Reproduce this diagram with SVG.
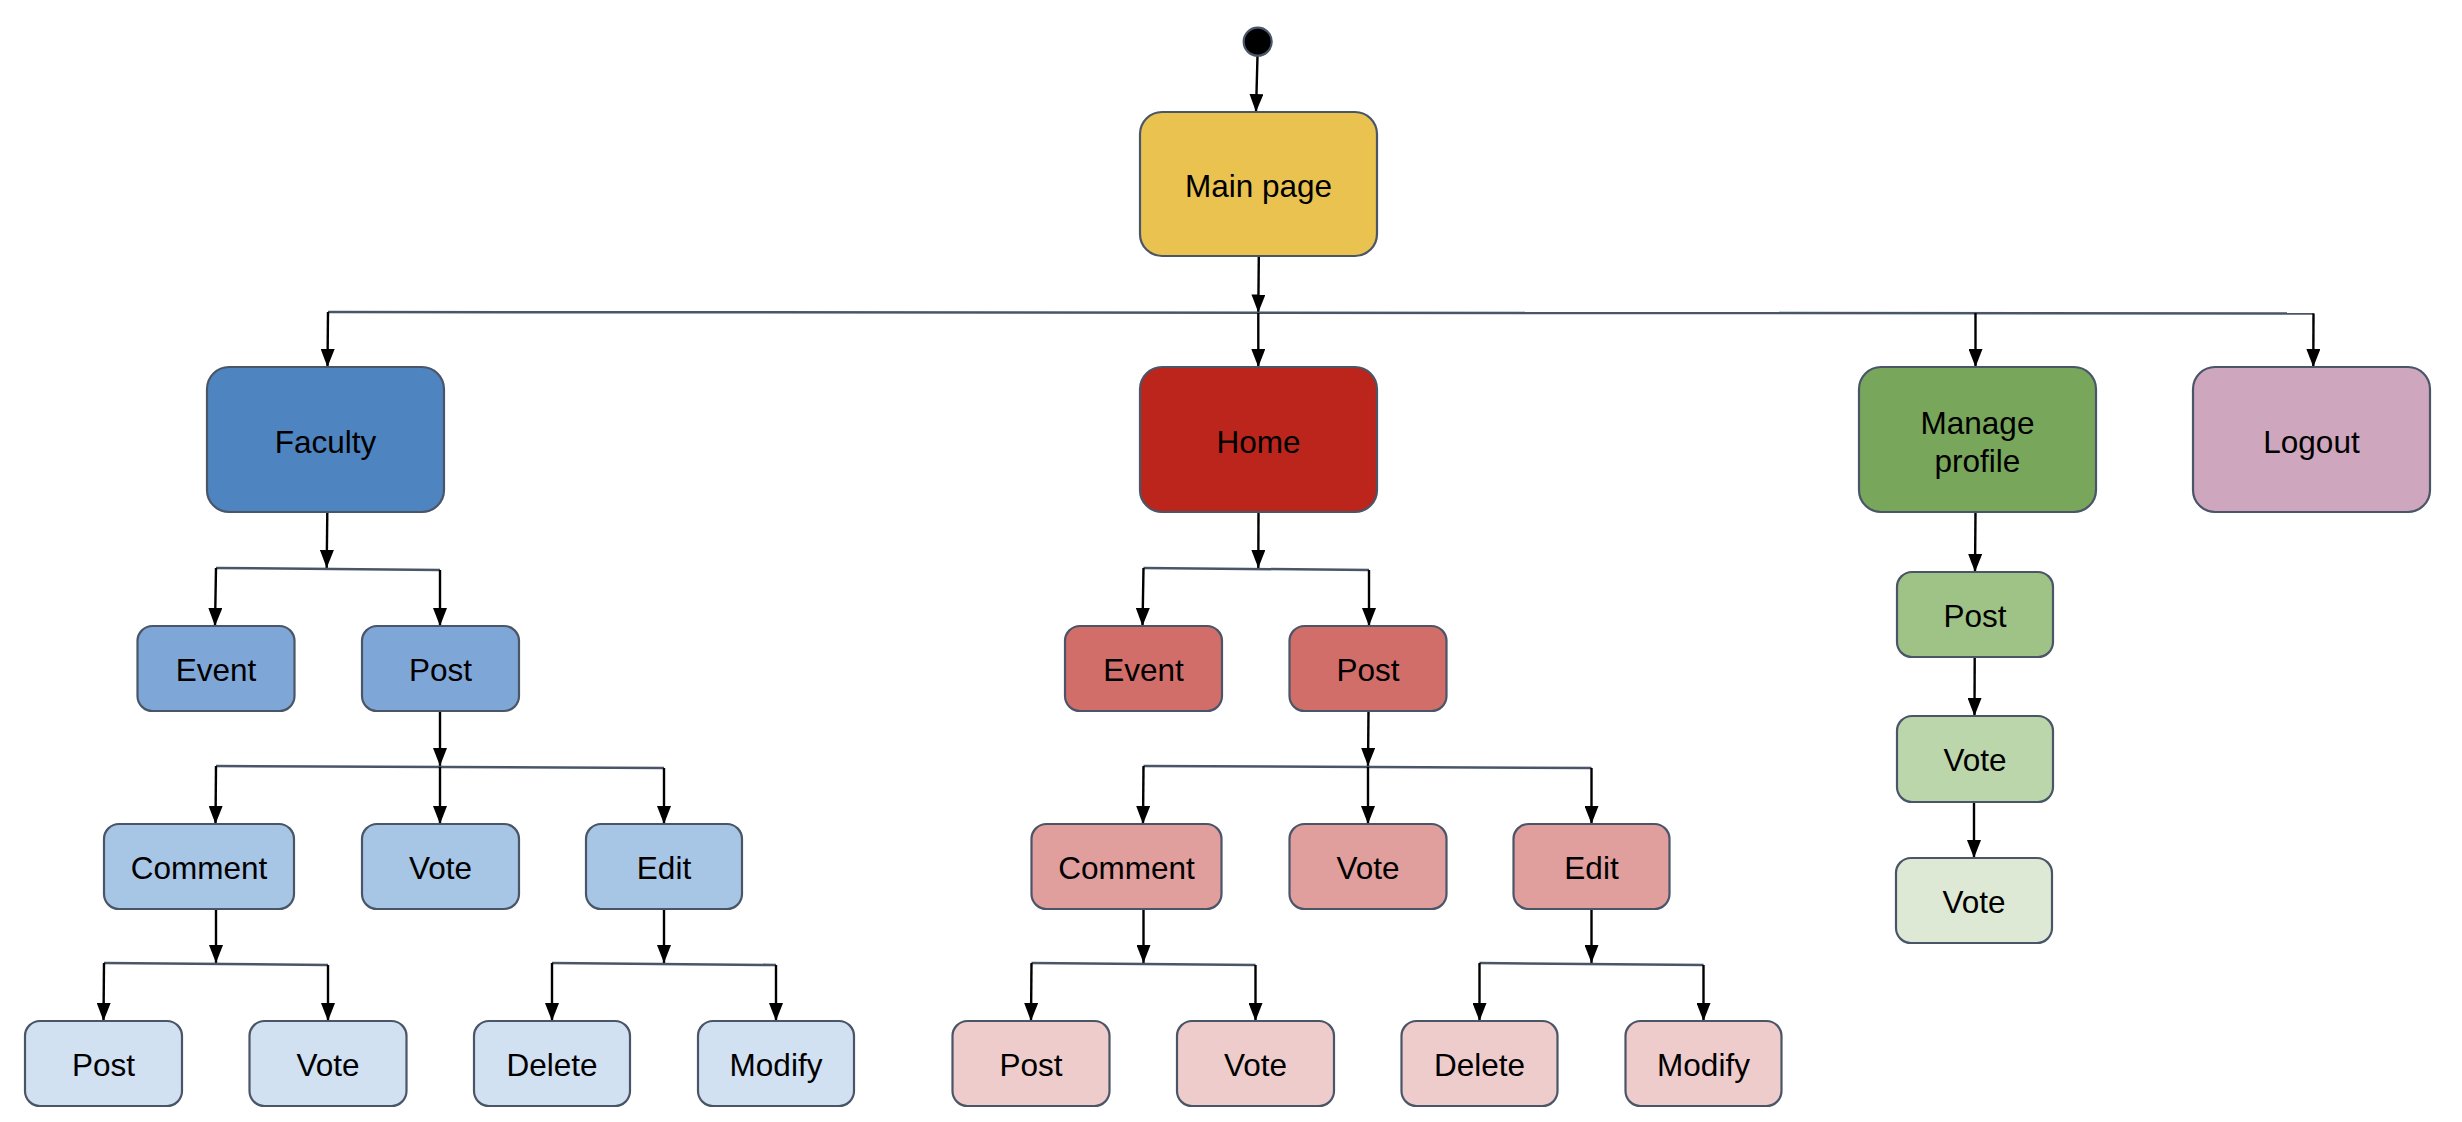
<svg xmlns="http://www.w3.org/2000/svg" width="2462" height="1122" viewBox="0 0 2462 1122">
<defs>
<marker id="ah" viewBox="0 0 18 14" refX="18" refY="7" markerWidth="18" markerHeight="14" orient="auto" markerUnits="userSpaceOnUse">
<path d="M0,0 L18,7 L0,14 Z" fill="#000"/>
</marker>
</defs>
<style>
.n rect, .n circle { stroke: #4A5568; stroke-width: 2.2; }
.n text { font-family: "Liberation Sans", Arial, Helvetica, sans-serif; font-size: 31.5px; fill: #000; text-anchor: middle; }
.bus { fill: none; stroke: #4A5568; stroke-width: 2.5; }
.arr { fill: none; stroke: #000; stroke-width: 2.4; marker-end: url(#ah); }
.c0 { fill: #E9C250; }
.f1 { fill: #4E84C0; } .f2 { fill: #7EA7D7; } .f3 { fill: #A7C5E5; } .f4 { fill: #D1E1F1; }
.h1 { fill: #BC251C; } .h2 { fill: #D26E6A; } .h3 { fill: #E09E9C; } .h4 { fill: #EECCCB; }
.m1 { fill: #78A65A; } .m2 { fill: #9FC386; } .m3 { fill: #BCD6AC; } .m4 { fill: #DDE9D5; }
.l1 { fill: #CEA6BD; }
</style>
<rect width="2462" height="1122" fill="#fff"/>

<g id="connectors">
<path class="arr" d="M1257.5,56 L1256,112"/>
<path class="arr" d="M1258.8,256 L1258.3,312.5"/>
<path class="bus" d="M328,312 L2314,313.5"/>
<path class="arr" d="M328,312 L327.5,367"/>
<path class="arr" d="M1258.3,313 L1258.3,367"/>
<path class="arr" d="M1975.5,313 L1975.5,367"/>
<path class="arr" d="M2313.5,313.5 L2313.3,367"/>
<path class="arr" d="M1975.5,512 L1975,572"/>
<path class="arr" d="M1974.7,658 L1974.5,716"/>
<path class="arr" d="M1974,802 L1974,858"/>
<!-- Faculty subtree -->
<path class="arr" d="M327.3,512 L326.7,568"/>
<path class="bus" d="M216,568 L440,570"/>
<path class="arr" d="M216,568 L215,626"/>
<path class="arr" d="M440,570 L440,626"/>
<path class="arr" d="M440,711 L440,766"/>
<path class="bus" d="M216,766 L664,768"/>
<path class="arr" d="M216,766 L215.5,824"/>
<path class="arr" d="M440,767 L440,824"/>
<path class="arr" d="M664,768 L664,824"/>
<path class="arr" d="M216,909 L216,963"/>
<path class="bus" d="M104,963 L328,965"/>
<path class="arr" d="M104,963 L103.5,1021"/>
<path class="arr" d="M328,965 L328,1021"/>
<path class="arr" d="M664,909 L664,963"/>
<path class="bus" d="M552,963 L776,965"/>
<path class="arr" d="M552,963 L552,1021"/>
<path class="arr" d="M776,965 L776,1021"/>
<!-- Home subtree -->
<path class="arr" d="M1258.5,512 L1258.3,568"/>
<path class="bus" d="M1143.5,568 L1369,570"/>
<path class="arr" d="M1143.5,568 L1142.5,626"/>
<path class="arr" d="M1369,570 L1369,626"/>
<path class="arr" d="M1368.5,711 L1368,766"/>
<path class="bus" d="M1143.5,766 L1591.5,768"/>
<path class="arr" d="M1143.5,766 L1143,824"/>
<path class="arr" d="M1368,767 L1368,824"/>
<path class="arr" d="M1591.5,768 L1591.5,824"/>
<path class="arr" d="M1143.5,909 L1143.5,963"/>
<path class="bus" d="M1031.5,963 L1255.5,965"/>
<path class="arr" d="M1031.5,963 L1031,1021"/>
<path class="arr" d="M1255.5,965 L1255.5,1021"/>
<path class="arr" d="M1591.5,909 L1591.5,963"/>
<path class="bus" d="M1479.5,963 L1703.5,965"/>
<path class="arr" d="M1479.5,963 L1479.5,1021"/>
<path class="arr" d="M1703.5,965 L1703.5,1021"/>
</g>

<g id="start" class="n"><circle cx="1257.7" cy="41.7" r="14" fill="#000"/></g>
<g id="main-page" class="n"><rect class="c0" x="1140" y="112" width="237" height="144" rx="22"/><text x="1258.5" y="196.5">Main page</text></g>

<g id="faculty" class="n"><rect class="f1" x="207" y="367" width="237" height="145" rx="22"/><text x="325.5" y="452.5">Faculty</text></g>
<g id="home" class="n"><rect class="h1" x="1140" y="367" width="237" height="145" rx="22"/><text x="1258.5" y="452.5">Home</text></g>
<g id="manage-profile" class="n"><rect class="m1" x="1859" y="367" width="237" height="145" rx="22"/><text x="1977.5" y="434">Manage</text><text x="1977.5" y="472">profile</text></g>
<g id="logout" class="n"><rect class="l1" x="2193" y="367" width="237" height="145" rx="22"/><text x="2311.5" y="452.5">Logout</text></g>

<g id="mp-post" class="n"><rect class="m2" x="1897" y="572" width="156" height="85" rx="15"/><text x="1975" y="626.5">Post</text></g>
<g id="mp-vote" class="n"><rect class="m3" x="1897" y="716" width="156" height="86" rx="15"/><text x="1975" y="771">Vote</text></g>
<g id="mp-vote2" class="n"><rect class="m4" x="1896" y="858" width="156" height="85" rx="15"/><text x="1974" y="912.5">Vote</text></g>

<g id="f-event" class="n"><rect class="f2" x="137.5" y="626" width="157" height="85" rx="15"/><text x="216" y="680.5">Event</text></g>
<g id="f-post" class="n"><rect class="f2" x="362" y="626" width="157" height="85" rx="15"/><text x="440.5" y="680.5">Post</text></g>
<g id="f-comment" class="n"><rect class="f3" x="104" y="824" width="190" height="85" rx="15"/><text x="199" y="878.5">Comment</text></g>
<g id="f-vote" class="n"><rect class="f3" x="362" y="824" width="157" height="85" rx="15"/><text x="440.5" y="878.5">Vote</text></g>
<g id="f-edit" class="n"><rect class="f3" x="586" y="824" width="156" height="85" rx="15"/><text x="664" y="878.5">Edit</text></g>
<g id="f-post2" class="n"><rect class="f4" x="25" y="1021" width="157" height="85" rx="15"/><text x="103.5" y="1075.5">Post</text></g>
<g id="f-vote2" class="n"><rect class="f4" x="249.5" y="1021" width="157" height="85" rx="15"/><text x="328" y="1075.5">Vote</text></g>
<g id="f-delete" class="n"><rect class="f4" x="474" y="1021" width="156" height="85" rx="15"/><text x="552" y="1075.5">Delete</text></g>
<g id="f-modify" class="n"><rect class="f4" x="698" y="1021" width="156" height="85" rx="15"/><text x="776" y="1075.5">Modify</text></g>

<g id="h-event" class="n"><rect class="h2" x="1065" y="626" width="157" height="85" rx="15"/><text x="1143.5" y="680.5">Event</text></g>
<g id="h-post" class="n"><rect class="h2" x="1289.5" y="626" width="157" height="85" rx="15"/><text x="1368" y="680.5">Post</text></g>
<g id="h-comment" class="n"><rect class="h3" x="1031.5" y="824" width="190" height="85" rx="15"/><text x="1126.5" y="878.5">Comment</text></g>
<g id="h-vote" class="n"><rect class="h3" x="1289.5" y="824" width="157" height="85" rx="15"/><text x="1368" y="878.5">Vote</text></g>
<g id="h-edit" class="n"><rect class="h3" x="1513.5" y="824" width="156" height="85" rx="15"/><text x="1591.5" y="878.5">Edit</text></g>
<g id="h-post2" class="n"><rect class="h4" x="952.5" y="1021" width="157" height="85" rx="15"/><text x="1031" y="1075.5">Post</text></g>
<g id="h-vote2" class="n"><rect class="h4" x="1177" y="1021" width="157" height="85" rx="15"/><text x="1255.5" y="1075.5">Vote</text></g>
<g id="h-delete" class="n"><rect class="h4" x="1401.5" y="1021" width="156" height="85" rx="15"/><text x="1479.5" y="1075.5">Delete</text></g>
<g id="h-modify" class="n"><rect class="h4" x="1625.5" y="1021" width="156" height="85" rx="15"/><text x="1703.5" y="1075.5">Modify</text></g>
</svg>
